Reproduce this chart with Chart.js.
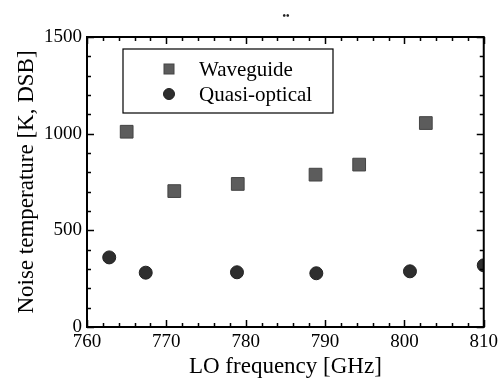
<!DOCTYPE html>
<html>
<head>
<meta charset="utf-8">
<script src="https://cdn.jsdelivr.net/npm/chart.js@4.4.1/dist/chart.umd.min.js"></script>
<style>
  html, body { margin: 0; padding: 0; background: #fff; }
  #myChart { display: block; }
</style>
</head>
<body>
<canvas id="myChart" width="502" height="381"></canvas>
<script>
// LO frequency [GHz] vs noise temperature [K, DSB]
let waveguideFreq = [765.0, 771.0, 779.0, 788.8, 794.3, 802.7]
let waveguideTemp = [1010, 703, 740, 788, 840, 1055]

let quasiFreq = [762.8, 767.4, 778.9, 788.9, 800.7, 810.0]
let quasiTemp = [360, 281, 283, 278, 288, 319]

let xTickLabels = [760, 770, 780, 790, 800, 810]
let yTickLabels = [0, 500, 1000, 1500]

let serif = "'Liberation Serif', 'Times New Roman', serif"

const toPoints = (xs, ys) => xs.map((x, i) => ({ x: x, y: ys[i] }))

// frame + inward ticks on all four sides (minor every 2 GHz / 100 K)
const framePlugin = {
  id: 'frame',
  afterDatasetsDraw(chart) {
    const { ctx, chartArea: a, scales } = chart
    const xs = scales.x, ys = scales.y
    ctx.save()
    ctx.strokeStyle = '#000'
    ctx.lineWidth = 1.5
    ctx.beginPath()
    for (let v = xs.min; v <= xs.max + 0.001; v += 2) {
      const px = Math.round(xs.getPixelForValue(v)) + 0.5
      const len = xTickLabels.includes(v) ? 7 : 4
      ctx.moveTo(px, a.bottom); ctx.lineTo(px, a.bottom - len)
      ctx.moveTo(px, a.top); ctx.lineTo(px, a.top + len)
    }
    for (let v = ys.min; v <= ys.max + 0.001; v += 100) {
      const py = Math.round(ys.getPixelForValue(v)) + 0.5
      const len = yTickLabels.includes(v) ? 7 : 4
      ctx.moveTo(a.left, py); ctx.lineTo(a.left + len, py)
      ctx.moveTo(a.right, py); ctx.lineTo(a.right - len, py)
    }
    ctx.stroke()
    ctx.lineWidth = 2
    ctx.strokeRect(a.left, a.top, a.right - a.left, a.bottom - a.top)

    // small mark above the plot (as in the scan)
    ctx.fillStyle = '#222'
    ctx.font = 'bold 10px ' + serif
    ctx.textAlign = 'center'
    ctx.textBaseline = 'middle'
    ctx.fillText('••', 286, 16)

    // legend box inside the plot
    const lx = a.left + 36, ly = a.top + 12, lw = 210, lh = 64
    ctx.fillStyle = '#fff'
    ctx.fillRect(lx, ly, lw, lh)
    ctx.strokeStyle = '#000'
    ctx.lineWidth = 1.2
    ctx.strokeRect(lx, ly, lw, lh)
    chart.data.datasets.forEach((ds, i) => {
      const cy = ly + 20 + i * 25
      const cx = lx + 46
      ctx.fillStyle = ds.backgroundColor
      ctx.strokeStyle = ds.borderColor
      ctx.lineWidth = 1
      if (ds.pointStyle === 'rect') {
        ctx.fillRect(cx - 5, cy - 5, 10, 10)
        ctx.strokeRect(cx - 5, cy - 5, 10, 10)
      } else {
        ctx.beginPath(); ctx.arc(cx, cy, 5.5, 0, Math.PI * 2); ctx.fill(); ctx.stroke()
      }
      ctx.fillStyle = '#000'
      ctx.font = '21px ' + serif
      ctx.textAlign = 'left'
      ctx.fillText(ds.label, lx + 76, cy + 1)
    })
    ctx.restore()
  }
}

let ctx = document.getElementById('myChart').getContext('2d')

let myChart = new Chart(ctx, {
  type: 'scatter',
  data: {
    datasets: [{
      label: 'Waveguide',
      data: toPoints(waveguideFreq, waveguideTemp),
      pointStyle: 'rect',
      pointRadius: 9,
      backgroundColor: '#5c5c5c',
      borderColor: '#444',
      borderWidth: 1,
      clip: 0
    }, {
      label: 'Quasi-optical',
      data: toPoints(quasiFreq, quasiTemp),
      pointStyle: 'circle',
      pointRadius: 6.5,
      backgroundColor: '#2e2e2e',
      borderColor: '#222',
      borderWidth: 1,
      clip: 0
    }]
  },
  options: {
    responsive: false,
    animation: false,
    layout: { padding: { top: 37, right: 18, left: 0, bottom: 0 } },
    plugins: {
      legend: { display: false },
      tooltip: { enabled: false }
    },
    scales: {
      x: {
        type: 'linear',
        min: 760,
        max: 810,
        afterFit: (s) => { s.height = 54 },
        afterBuildTicks: (s) => { s.ticks = xTickLabels.map(v => ({ value: v })) },
        grid: { display: false, drawTicks: false },
        border: { display: false },
        ticks: {
          padding: 4, color: '#000', font: { family: serif, size: 19 }, maxRotation: 0,
          callback: (v) => String(v)
        },
        title: {
          display: true,
          text: 'LO frequency [GHz]',
          color: '#000',
          font: { family: serif, size: 23 },
          padding: { top: 0, bottom: 0 }
        }
      },
      y: {
        min: 0,
        max: 1500,
        afterFit: (s) => { s.width = 87 },
        afterBuildTicks: (s) => { s.ticks = yTickLabels.map(v => ({ value: v })) },
        grid: { display: false, drawTicks: false },
        border: { display: false },
        ticks: {
          padding: 5, color: '#000', font: { family: serif, size: 19 },
          callback: (v) => String(v)
        },
        title: {
          display: true,
          text: 'Noise temperature [K, DSB]',
          color: '#000',
          font: { family: serif, size: 23 },
          padding: { top: 13, bottom: 0 }
        }
      }
    }
  },
  plugins: [framePlugin]
})
</script>
</body>
</html>
